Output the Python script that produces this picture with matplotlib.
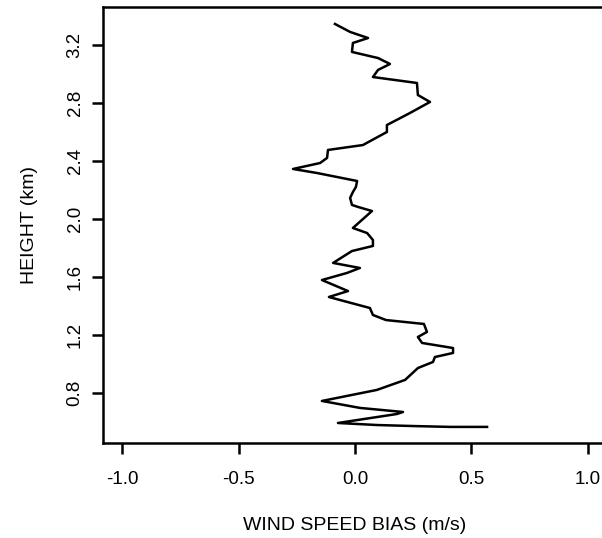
import numpy as np
import matplotlib
matplotlib.use("Agg")
from matplotlib import pyplot as plt

# wind speed bias profile, top to bottom
height_km = [3.345, 3.290, 3.248, 3.214, 3.152, 3.110, 3.069, 3.028, 2.979, 2.938,
             2.855, 2.807, 2.731, 2.648, 2.600, 2.510, 2.476, 2.421, 2.386, 2.345,
             2.317, 2.262, 2.221, 2.186, 2.145, 2.097, 2.083, 2.055, 1.938, 1.903,
             1.855, 1.814, 1.779, 1.697, 1.662, 1.628, 1.579, 1.503, 1.462, 1.441,
             1.386, 1.338, 1.303, 1.276, 1.221, 1.186, 1.145, 1.110, 1.076, 1.048,
             1.014, 0.972, 0.890, 0.821, 0.745, 0.697, 0.669, 0.655, 0.593, 0.579,
             0.572, 0.566, 0.566]
bias_ms = [-0.086, -0.021, 0.056, -0.009, -0.013, 0.099, 0.150, 0.099, 0.077, 0.266,
           0.270, 0.322, 0.236, 0.137, 0.137, 0.034, -0.116, -0.120, -0.150, -0.266,
           -0.163, 0.009, 0.004, -0.009, -0.021, -0.013, 0.013, 0.073, -0.009, 0.052,
           0.077, 0.077, -0.013, -0.094, 0.021, -0.034, -0.142, -0.030, -0.112, -0.064,
           0.064, 0.077, 0.133, 0.296, 0.309, 0.270, 0.288, 0.421, 0.421, 0.343,
           0.335, 0.270, 0.215, 0.094, -0.142, 0.021, 0.206, 0.180, -0.073, 0.094,
           0.249, 0.408, 0.567]

x_ticks = [-1.0, -0.5, 0.0, 0.5, 1.0]
y_ticks = [0.8, 1.2, 1.6, 2.0, 2.4, 2.8, 3.2]

plt.rcParams['font.family'] = ['Liberation Sans', 'DejaVu Sans']

fig = plt.figure(figsize=(6.02, 5.38), dpi=100)
W, H = 602, 538
# axes box in pixels: left 103, top 7, bottom 443, right ~607 (past the edge)
ax = fig.add_axes([103 / W, 1 - 443 / H, 504 / W, 436 / H])

ax.plot(bias_ms, height_km, color='black', linewidth=1.8)

ax.set_xlim(-1.082, 1.082)
ax.set_ylim(0.455, 3.462)
ax.set_xticks(x_ticks)
ax.set_xticklabels(['%.1f' % v for v in x_ticks])
ax.set_yticks(y_ticks)
ax.set_yticklabels(['%.1f' % v for v in y_ticks], rotation=90, va='center')

for s in ax.spines.values():
    s.set_linewidth(1.8)
ax.tick_params(axis='both', length=8, width=1.8, labelsize=13.5, color='black')
ax.tick_params(axis='x', pad=12)
ax.tick_params(axis='y', pad=6)

fig.text(355 / W, 1 - 525 / H, 'WIND SPEED BIAS (m/s)', ha='center', va='center', fontsize=14)
fig.text(30 / W, 1 - 225 / H, 'HEIGHT (km)', ha='center', va='center', rotation=90, fontsize=14)

fig.savefig('out.png', dpi=100)
